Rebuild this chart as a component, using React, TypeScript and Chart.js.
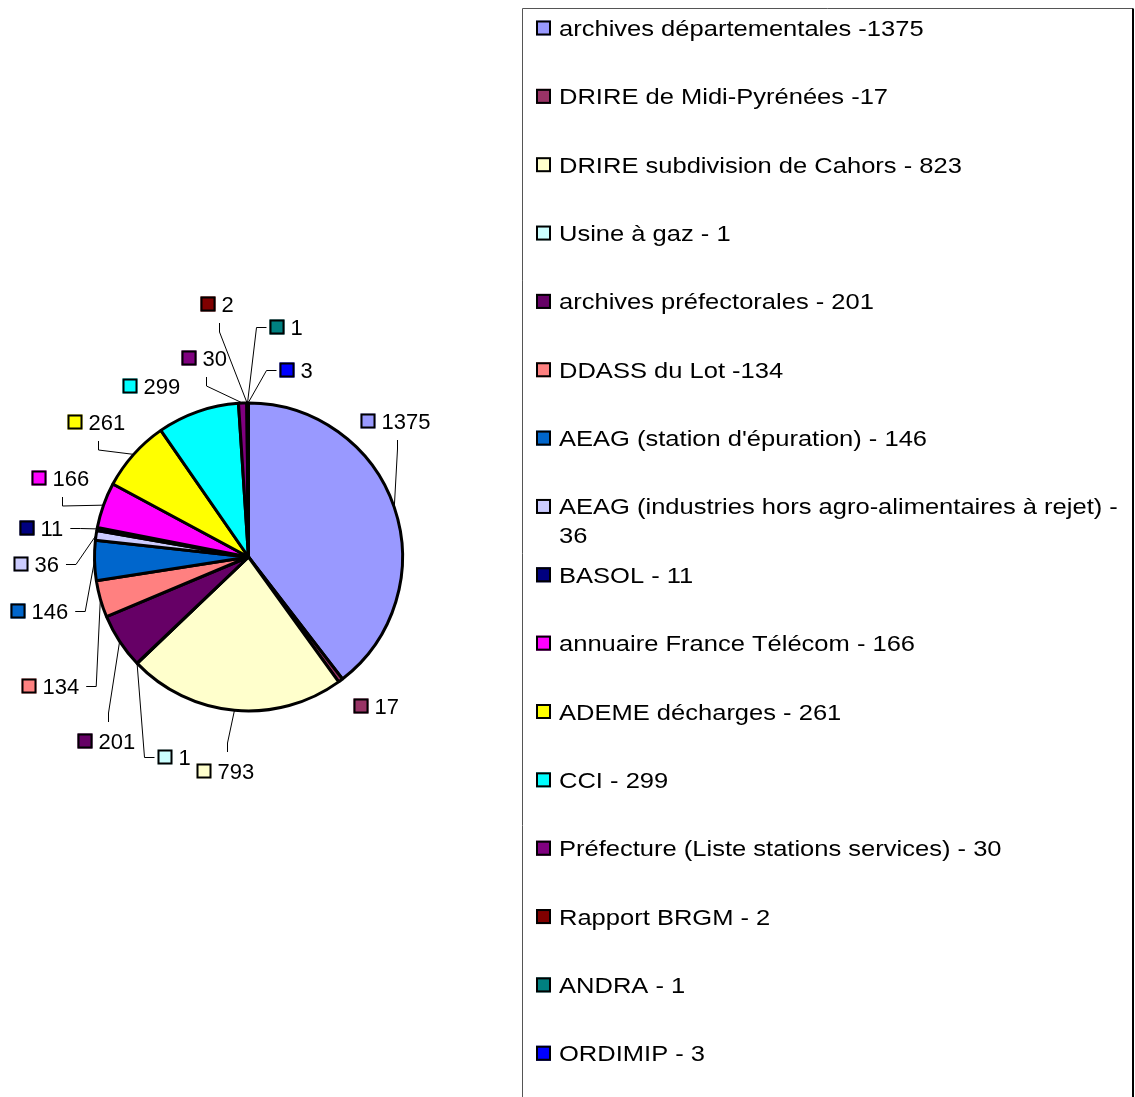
import React, { useEffect, useRef } from 'react';
import { Chart, registerables } from 'chart.js';

Chart.register(...registerables);

// ---- data ----
const legendLabels = [
  'archives départementales -1375',
  'DRIRE de Midi-Pyrénées -17',
  'DRIRE subdivision de Cahors - 823',
  'Usine à gaz - 1',
  'archives préfectorales - 201',
  'DDASS du Lot -134',
  "AEAG (station d'épuration) - 146",
  'AEAG (industries hors agro-alimentaires à rejet) - 36',
  'BASOL - 11',
  'annuaire France Télécom - 166',
  'ADEME décharges - 261',
  'CCI - 299',
  'Préfecture (Liste stations services) - 30',
  'Rapport BRGM - 2',
  'ANDRA - 1',
  'ORDIMIP - 3',
];

const pieValues = [1375, 17, 793, 1, 201, 134, 146, 36, 11, 166, 261, 299, 30, 2, 1, 3];

const sliceColors = [
  '#9999FF', '#993366', '#FFFFCC', '#CCFFFF', '#660066', '#FF8080', '#0066CC', '#CCCCFF',
  '#000080', '#FF00FF', '#FFFF00', '#00FFFF', '#800080', '#800000', '#008080', '#0000FF',
];

// ---- layout (label placement relative to the pie centre, in px) ----
const labelOffsets: [number, number][] = [
  [112, -136], [105, 149], [-52, 214], [-91, 200], [-171, 184], [-227, 129], [-238, 54], [-235, 7],
  [-229, -29], [-217, -79], [-181, -135], [-126, -171], [-67, -199], [-48, -253], [21, -230], [31, -187],
];
const leaderSides = [
  'bottom', 'none', 'top', 'left', 'top', 'right', 'right', 'right',
  'right', 'bottom', 'bottom', 'none', 'bottom', 'bottom', 'left', 'left',
];

const FONT = '22px "Liberation Sans", Arial, sans-serif';
const SQ = 15;
const LEGEND_STRETCH = 1.16;

function drawKey(ctx: CanvasRenderingContext2D, left: number, cy: number, color: string) {
  ctx.fillStyle = color;
  ctx.fillRect(left, cy - SQ / 2, SQ, SQ);
  ctx.strokeStyle = '#000';
  ctx.lineWidth = 2;
  ctx.strokeRect(left + 1, cy - SQ / 2 + 1, SQ - 2, SQ - 2);
}

const pieLabelsPlugin = {
  id: 'pieLabels',
  afterDatasetsDraw(chart: any) {
    const ctx: CanvasRenderingContext2D = chart.ctx;
    const meta = chart.getDatasetMeta(0);
    const values = chart.data.datasets[0].data as number[];
    const colors = chart.data.datasets[0].backgroundColor as string[];
    ctx.save();
    ctx.font = FONT;
    meta.data.forEach((arc: any, i: number) => {
      const { x, y, startAngle, endAngle, outerRadius } = arc.getProps(
        ['x', 'y', 'startAngle', 'endAngle', 'outerRadius'],
        true
      );
      const mid = (startAngle + endAngle) / 2;
      const ax = x + outerRadius * Math.cos(mid);
      const ay = y + outerRadius * Math.sin(mid);
      const txt = String(values[i]);
      const tw = ctx.measureText(txt).width;
      const sqL = x + labelOffsets[i][0];
      const my = y + labelOffsets[i][1];
      const boxL = sqL - 3;
      const boxR = sqL + 21 + tw + 7;
      const boxT = my - 19;
      const boxB = my + 19;
      const bcx = Math.round((boxL + boxR) / 2) + 0.5;
      const side = leaderSides[i];
      let p0: [number, number] | null = null;
      let p1: [number, number] | null = null;
      const ry = Math.round(my) + 0.5;
      if (side === 'bottom') { p0 = [bcx, boxB]; p1 = [bcx, boxB + 9]; }
      else if (side === 'top') { p0 = [bcx, boxT]; p1 = [bcx, boxT - 9]; }
      else if (side === 'left') { p0 = [boxL, ry]; p1 = [boxL - 10, ry]; }
      else if (side === 'right') { p0 = [boxR, ry]; p1 = [boxR + 10, ry]; }
      if (p0 && p1) {
        ctx.beginPath();
        ctx.strokeStyle = '#000';
        ctx.lineWidth = 1;
        ctx.moveTo(p0[0], p0[1]);
        ctx.lineTo(p1[0], p1[1]);
        ctx.lineTo(ax, ay);
        ctx.stroke();
      }
      drawKey(ctx, sqL, my, colors[i]);
      ctx.fillStyle = '#000';
      ctx.textBaseline = 'alphabetic';
      ctx.textAlign = 'left';
      ctx.fillText(txt, sqL + 21, my + 8);
    });
    ctx.restore();
  },
};

const legendBoxPlugin = {
  id: 'legendBox',
  afterDraw(chart: any) {
    const ctx: CanvasRenderingContext2D = chart.ctx;
    const labels = chart.data.labels as string[];
    const colors = chart.data.datasets[0].backgroundColor as string[];
    const boxLeft = 522.5;
    const boxTop = 8.5;
    const boxRight = 1133;
    ctx.save();
    ctx.strokeStyle = '#555';
    ctx.lineWidth = 1;
    ctx.beginPath();
    ctx.moveTo(boxLeft, chart.height + 5);
    ctx.lineTo(boxLeft, boxTop);
    ctx.lineTo(boxRight, boxTop);
    ctx.stroke();
    ctx.strokeStyle = '#000';
    ctx.lineWidth = 2;
    ctx.beginPath();
    ctx.moveTo(boxRight, boxTop);
    ctx.lineTo(boxRight, chart.height + 5);
    ctx.stroke();

    ctx.font = FONT;
    ctx.textAlign = 'left';
    ctx.textBaseline = 'alphabetic';
    const textX = 559;
    const maxW = 1130 - textX;
    const step = 68.35;
    labels.forEach((lab, i) => {
      const cy = 28 + i * step;
      drawKey(ctx, 536, cy, colors[i]);
      const words = lab.split(' ');
      const lines: string[] = [];
      let cur = '';
      words.forEach((w) => {
        const test = cur ? cur + ' ' + w : w;
        if (ctx.measureText(test).width * LEGEND_STRETCH > maxW && cur) {
          lines.push(cur);
          cur = w;
        } else {
          cur = test;
        }
      });
      if (cur) lines.push(cur);
      ctx.fillStyle = '#000';
      lines.forEach((ln, k) => {
        ctx.save();
        ctx.translate(textX, cy + 8 + k * 29);
        ctx.scale(LEGEND_STRETCH, 1);
        ctx.fillText(ln, 0, 0);
        ctx.restore();
      });
    });
    ctx.restore();
  },
};

export default function App() {
  const canvasRef = useRef<HTMLCanvasElement | null>(null);

  useEffect(() => {
    if (!canvasRef.current) return;
    const chart = new Chart(canvasRef.current, {
      type: 'pie',
      data: {
        labels: legendLabels,
        datasets: [
          {
            data: pieValues,
            backgroundColor: sliceColors,
            borderColor: '#000',
            borderWidth: 3,
            radius: 154,
          } as any,
        ],
      },
      options: {
        responsive: false,
        animation: false,
        devicePixelRatio: 1,
        layout: { padding: { left: 93.5, right: 731.5, top: 402, bottom: 385 } },
        plugins: {
          legend: { display: false },
          tooltip: { enabled: false },
          title: { display: false },
        },
      },
      plugins: [pieLabelsPlugin, legendBoxPlugin],
    });
    return () => chart.destroy();
  }, []);

  return (
    <div style={{ position: 'absolute', left: 0, top: 0, width: 1135, height: 1097, overflow: 'hidden', background: '#fff' }}>
      <canvas ref={canvasRef} width={1135} height={1097} style={{ display: 'block' }} />
    </div>
  );
}
